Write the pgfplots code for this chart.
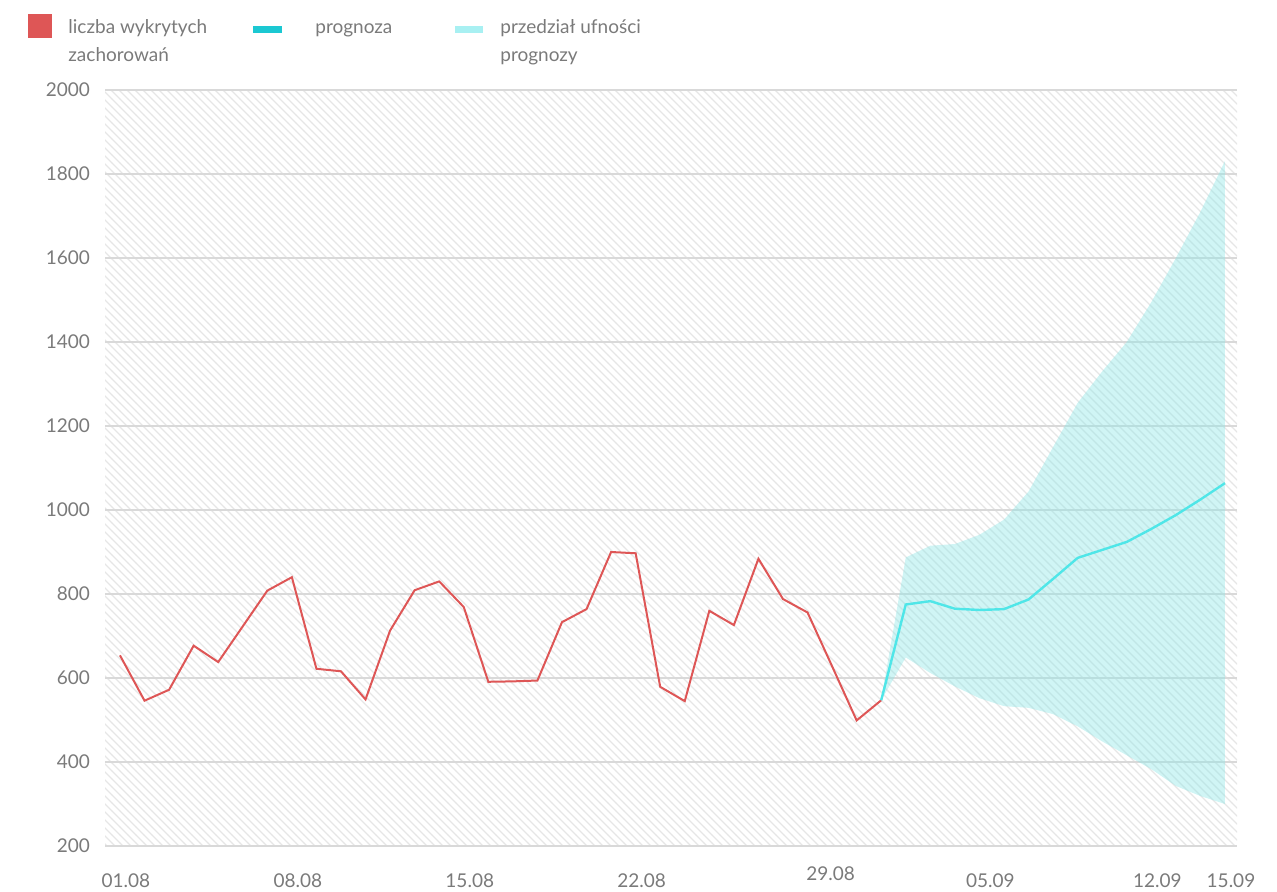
\documentclass[border=0pt]{standalone}
\usepackage{pgfplots}
\pgfplotsset{compat=1.18}
\usepackage{fontspec}
\setmainfont{Lato}
\usetikzlibrary{patterns}
\pgfdeclarepatternformonly{wide nw lines}{\pgfqpoint{-1pt}{-1pt}}{\pgfqpoint{5pt}{5pt}}{\pgfqpoint{4pt}{4pt}}{
  \pgfsetlinewidth{0.65pt}
  \pgfpathmoveto{\pgfqpoint{0pt}{4pt}}
  \pgfpathlineto{\pgfqpoint{4.1pt}{-0.1pt}}
  \pgfusepath{stroke}}
\definecolor{txt}{HTML}{7A7A7A}
\definecolor{redl}{HTML}{DE5656}
\definecolor{cyanl}{HTML}{4FE6E8}
\definecolor{cyanleg}{HTML}{1BC8D2}
\definecolor{bandleg}{HTML}{A8F0F2}
\definecolor{bandf}{HTML}{8EE6E6}
\definecolor{gridc}{HTML}{D9D9D9}
\definecolor{hatch}{HTML}{E6E6E6}
\begin{document}
\begin{tikzpicture}[font=\fontsize{9.5}{12}\selectfont]
\begin{axis}[
  scale only axis,
  width=566pt, height=378pt,
  xmin=-0.61, xmax=45.49,
  ymin=200, ymax=2000,
  ytick={200,400,...,2000},
  xtick={0,7,14,21,28,35,42,45},
  xticklabels={01.08,08.08,15.08,22.08,\raisebox{3.5pt}{\hspace*{17pt}29.08},{\hspace*{5pt}05.09},12.09,15.09},
  axis line style={draw=none},
  major tick length=0pt,
  ymajorgrids,
  grid style={draw=gridc, line width=1.3pt},
  axis background/.style={pattern=wide nw lines, pattern color=hatch},
  tick label style={text=txt, font=\fontsize{9.5}{12}\selectfont},
  /pgf/number format/assume math mode=true,
  /pgf/number format/1000 sep={},
  yticklabel style={anchor=east, xshift=-4pt},
  xticklabel style={anchor=base, yshift=-20.5pt, xshift=3pt},
]
% confidence band
\addplot[draw=none, fill=bandf, fill opacity=0.42] coordinates {
 (31,547) (32,887) (33,915) (34,919) (35,941) (36,977) (37,1044) (38,1150)
 (39,1255) (40,1330) (41,1400) (42,1495) (43,1600) (44,1710) (45,1831)
 (45,300) (44,319) (43,343) (42,383) (41,416) (40,449) (39,485) (38,514)
 (37,529) (36,533) (35,552) (34,580) (33,612) (32,649) (31,547)
};
% observed cases
\addplot[redl, line width=1pt, mark=none] coordinates {
 (0,654) (1,546) (2,572) (3,677) (4,638) (5,723) (6,808) (7,840) (8,622)
 (9,616) (10,549) (11,713) (12,809) (13,830) (14,769) (15,591) (16,592)
 (17,594) (18,733) (19,764) (20,900) (21,897) (22,579) (23,545) (24,760)
 (25,726) (26,884) (27,788) (28,756) (29,628) (30,499) (31,547)
};
% forecast
\addplot[cyanl, line width=1.2pt, mark=none] coordinates {
 (31,547) (32,775) (33,783) (34,765) (35,762) (36,764) (37,787) (38,836)
 (39,886) (40,905) (41,924) (42,955) (43,988) (44,1025) (45,1064)
};
\end{axis}
% legend
\fill[redl] (-38.5pt,404pt) rectangle (-26.5pt,416pt);
\node[anchor=base west, inner sep=0, text=txt] at (-18.5pt,406pt) {liczba wykrytych};
\node[anchor=base west, inner sep=0, text=txt] at (-18.5pt,392pt) {zachorowań};
\fill[cyanleg] (74pt,406.5pt) rectangle (88.5pt,410pt);
\node[anchor=base west, inner sep=0, text=txt] at (105pt,406pt) {prognoza};
\fill[bandleg] (175pt,406.5pt) rectangle (189pt,410pt);
\node[anchor=base west, inner sep=0, text=txt] at (197.5pt,406pt) {przedział ufności};
\node[anchor=base west, inner sep=0, text=txt] at (197.5pt,392pt) {prognozy};
\pgfresetboundingbox
\path[use as bounding box] (-52.5pt,-22.5pt) rectangle (586pt,423pt);
\end{tikzpicture}
\end{document}
